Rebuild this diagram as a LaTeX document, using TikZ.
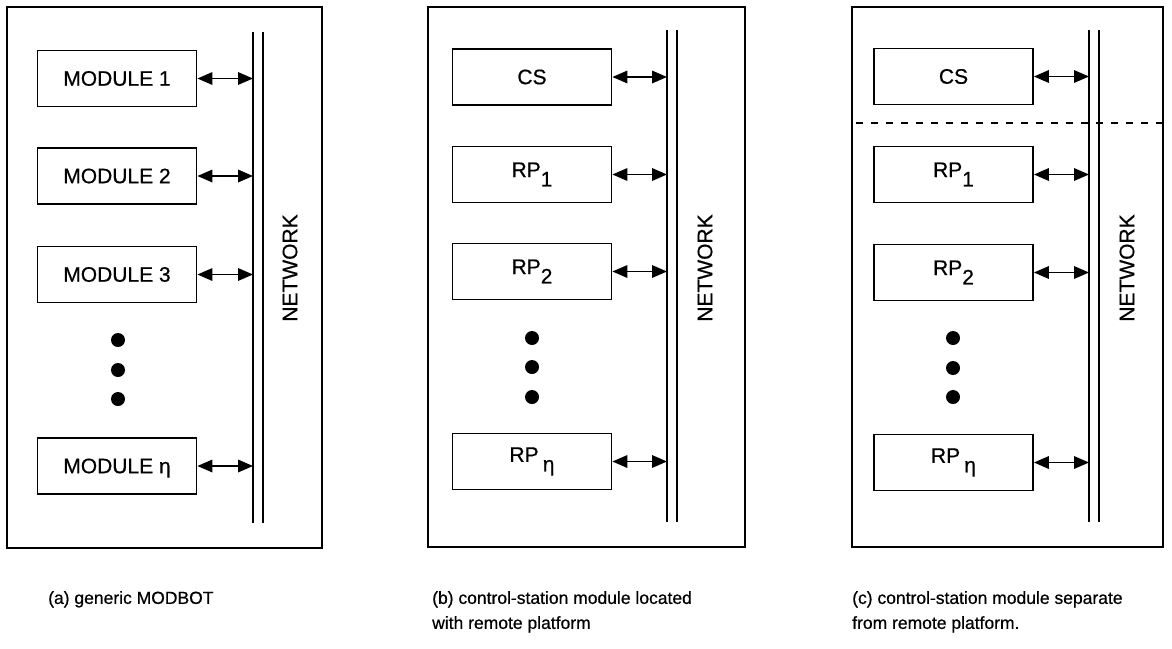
\documentclass[tikz,border=0pt]{standalone}
\usepackage{fontspec}
\setmainfont{Liberation Sans}[RawFeature={embolden=0.6}]
\usetikzlibrary{arrows.meta}
\newcommand\rpsub[1]{RP\raisebox{-0.45em}{#1}}
\begin{document}
\begin{tikzpicture}[x=1pt,y=-1pt,
  panel/.style={line width=1.8pt},
  modbox/.style={draw, line width=1.8pt, minimum width=159pt, minimum height=56pt, inner sep=0pt, font=\fontsize{21}{24}\selectfont},
  netline/.style={line width=1.7pt},
  biarrow/.style={line width=1.8pt, {Triangle[length=15pt,width=12.5pt]}-{Triangle[length=15pt,width=12.5pt]}},
  dotmark/.style={circle, fill=black, minimum size=14pt, inner sep=0pt},
  netlabel/.style={rotate=90, font=\fontsize{21}{24}\selectfont},
  caption/.style={anchor=north west, align=left, font=\fontsize{17.5}{25}\selectfont, inner sep=0pt}
]
\useasboundingbox[fill=white] (0,0) rectangle (1172,648);

% ---------------- panel (a)
\draw[panel] (7,7) rectangle (322,548);
\coordinate (aNL) at (253,0);
\draw[netline] (253,32) -- (253,523);
\draw[netline] (263,32) -- (263,523);
\node[modbox] (a1) at (117,78.5) {MODULE 1};
\node[modbox] (a2) at (117,176) {MODULE 2};
\node[modbox] (a3) at (117,274.5) {MODULE 3};
\node[modbox] (an) at (117,466) {MODULE \smash{η}};
\foreach \n in {a1,a2,a3,an} \draw[biarrow] (\n.east) -- (\n.east -| aNL);
\node[dotmark] (ad1) at (118,340) {};
\node[dotmark] (ad2) at (118,370) {};
\node[dotmark] (ad3) at (118,399) {};
\node[netlabel] (anet) at (290,268) {NETWORK};

% ---------------- panel (b)
\draw[panel] (428,7) rectangle (745,547);
\coordinate (bNL) at (667,0);
\draw[netline] (667,30) -- (667,522);
\draw[netline] (677,30) -- (677,522);
\node[modbox] (bcs) at (532,77) {CS};
\node[modbox] (b1) at (532,174.5) {\rpsub{1}};
\node[modbox] (b2) at (532,271.5) {\rpsub{2}};
\node[modbox] (bn) at (532,461.5) {RP\hspace{0.2em}\raisebox{-0.45em}{η}};
\foreach \n in {bcs,b1,b2,bn} \draw[biarrow] (\n.east) -- (\n.east -| bNL);
\node[dotmark] (bd1) at (532,338) {};
\node[dotmark] (bd2) at (532,367) {};
\node[dotmark] (bd3) at (532,397) {};
\node[netlabel] (bnet) at (705,268) {NETWORK};

% ---------------- panel (c)
\draw[panel] (852,7) rectangle (1163,547);
\coordinate (cNL) at (1089,0);
\draw[netline] (1089,30) -- (1089,522);
\draw[netline] (1099,30) -- (1099,522);
\node[modbox] (ccs) at (953.5,76.5) {CS};
\node[modbox] (c1) at (953.5,174.5) {\rpsub{1}};
\node[modbox] (c2) at (953.5,272.5) {\rpsub{2}};
\node[modbox] (cn) at (953.5,462.5) {RP\hspace{0.2em}\raisebox{-0.45em}{η}};
\foreach \n in {ccs,c1,c2,cn} \draw[biarrow] (\n.east) -- (\n.east -| cNL);
\node[dotmark] (cd1) at (953,338) {};
\node[dotmark] (cd2) at (953,368) {};
\node[dotmark] (cd3) at (953,397) {};
\node[netlabel] (cnet) at (1127,268) {NETWORK};
\draw[line width=1.7pt, dash pattern=on 7pt off 8pt] (856,123) -- (1163,123);

% ---------------- captions
\node[caption] (capa) at (48,591) {(a) generic MODBOT};
\node[caption] (capb) at (432,591) {(b) control-station module located\\with remote platform};
\node[caption] (capc) at (852,591) {(c) control-station module separate\\from remote platform.};
\end{tikzpicture}
\end{document}
